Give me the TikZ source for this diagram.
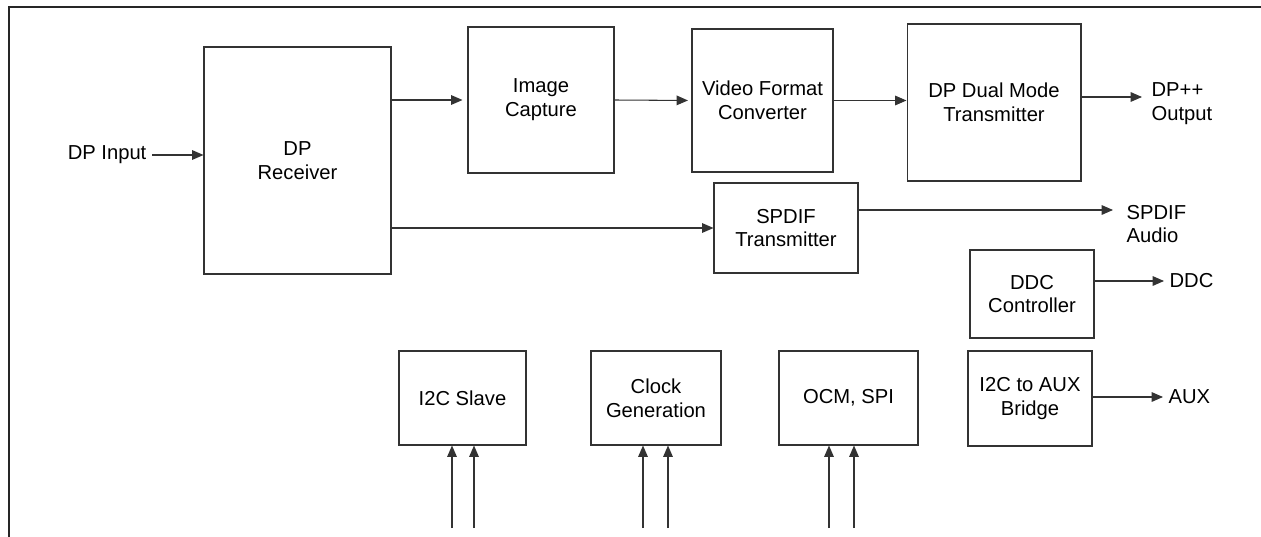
\documentclass[tikz,border=0pt]{standalone}
\usepackage{fontspec}
\setmainfont{Liberation Sans}
\usetikzlibrary{arrows.meta}

\begin{document}
\begin{tikzpicture}[x=0.02cm, y=-0.02cm,
  font=\fontsize{11.5}{13.6}\selectfont,
  blk/.style={draw=black!80, line width=0.6pt, align=center, inner sep=0pt},
  arr/.style={draw=black!80, line width=0.6pt, -{Triangle[length=6.5pt,width=5.5pt]}},
  lbl/.style={align=left, inner xsep=3pt, anchor=west}]

\useasboundingbox (0,0) rectangle (1261,537);

% frame
\draw[line width=1.1pt, black!85] (9,537) -- (9,7) -- (1261,7);

% receiver and video path
\node[blk, minimum width=3.74cm, minimum height=4.54cm] (rx) at (297.5,160.5) {DP\\Receiver};
\node[blk, minimum width=2.92cm, minimum height=2.92cm] (cap) at (541,100) {Image\\Capture};
\node[blk, minimum width=2.82cm, minimum height=2.86cm] (vfc) at (762.5,100.5) {Video Format\\Converter};
\node[blk, minimum width=3.48cm, minimum height=3.14cm] (dmt) at (994,102.5) {DP Dual Mode\\Transmitter};

% audio
\node[blk, minimum width=2.88cm, minimum height=1.8cm] (spdif) at (786,228) {SPDIF\\Transmitter};

% side channels
\node[blk, minimum width=2.48cm, minimum height=1.76cm] (ddc) at (1032,294) {DDC\\Controller};
\node[blk, minimum width=2.48cm, minimum height=1.9cm] (aux) at (1030,398.5) {I2C to AUX\\Bridge};

% bottom row
\node[blk, minimum width=2.54cm, minimum height=1.88cm] (i2c) at (462.5,398) {I2C Slave};
\node[blk, minimum width=2.6cm, minimum height=1.88cm] (clk) at (656,398) {Clock\\Generation};
\node[blk, minimum width=2.78cm, minimum height=1.88cm] (ocm) at (848.5,398) {OCM, SPI};

% outside labels
\node[lbl, anchor=east] (inp) at (152,155) {DP Input};
\node[lbl] (dpout) at (1146,104) {DP++\\Output};
\node[lbl] (aud) at (1121,224) {SPDIF\\Audio};
\node[lbl] (ddcout) at (1164,281) {DDC};
\node[lbl] (auxout) at (1163,397) {AUX};
\coordinate (dpo) at (1142,97);
\coordinate (audo) at (1113,210);

% arrows
\draw[arr] (inp.east) -- (inp.east -| rx.west);
\draw[arr, shorten >=0.1cm] (rx.east |- cap.west) -- (cap.west);
\draw[arr, shorten >=2pt] (cap.east) -- (vfc.west);
\draw[arr] (vfc.east) -- (vfc.east -| dmt.west);
\draw[arr] (rx.east |- spdif.west) -- (spdif.west);
\draw[arr] (dmt.east |- dpo) -- (dpo);
\draw[arr] (spdif.east |- audo) -- (audo);
\draw[arr] (ddc.east |- ddcout.west) -- (ddcout.west);
\draw[arr] (aux.east |- auxout.west) -- (auxout.west);

% inputs from below
\foreach \b/\x in {i2c/452, i2c/474, clk/643, clk/668, ocm/829, ocm/854}
  \draw[arr] (\x,528) -- (\b.south -| \x,0);

\end{tikzpicture}
\end{document}
